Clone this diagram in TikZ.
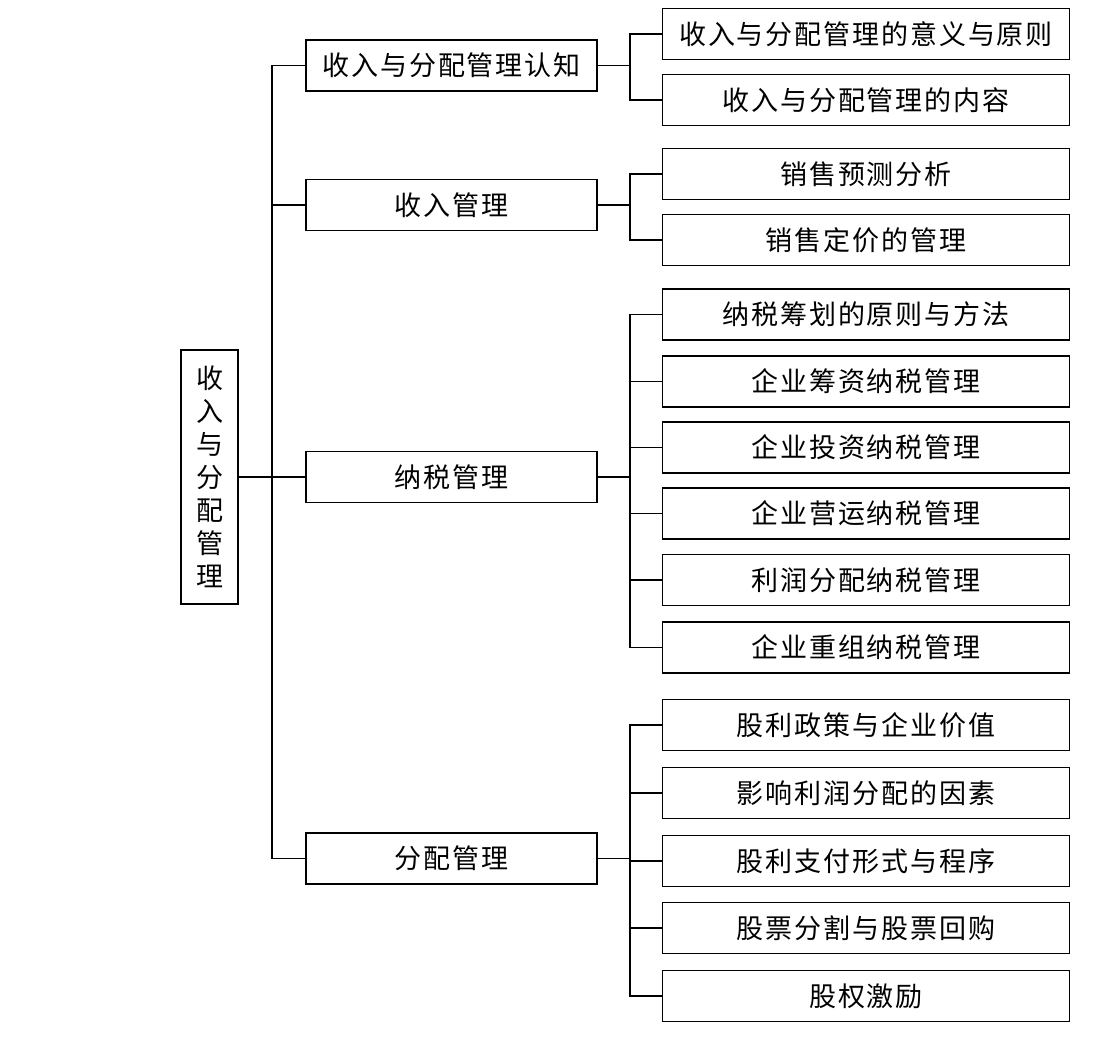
\documentclass[tikz,border=0pt]{standalone}
\usepackage{fontspec}
\setmainfont{Noto Sans CJK SC}[LetterSpace=7]

\begin{document}
\begin{tikzpicture}[x=1pt,y=-1pt,
  font=\fontsize{27}{33}\selectfont,
  rootbox/.style={draw,line width=1.4pt,minimum width=57pt,minimum height=254pt,inner sep=0pt,align=center},
  midbox/.style={draw,line width=1.4pt,minimum width=291pt,minimum height=51pt,inner sep=0pt},
  leafbox/.style={draw,line width=1.4pt,minimum width=407pt,minimum height=51pt,inner sep=0pt},
  link/.style={line width=1.1pt}]
\useasboundingbox (0,0) rectangle (1099,1048);
\node[rootbox] (root) at (209.5,477) {收\\入\\与\\分\\配\\管\\理};
\node[midbox] (m1) at (451.5,65.5) {收入与分配管理认知};
\node[midbox] (m2) at (451.5,205) {收入管理};
\node[midbox] (m3) at (451.5,477) {纳税管理};
\node[midbox] (m4) at (451.5,858.5) {分配管理};
\foreach \t/\y [count=\i] in {收入与分配管理的意义与原则/34, 收入与分配管理的内容/100,
  销售预测分析/174, 销售定价的管理/240, 纳税筹划的原则与方法/314.5,
  企业筹资纳税管理/381.5, 企业投资纳税管理/447.5, 企业营运纳税管理/513.5,
  利润分配纳税管理/580, 企业重组纳税管理/647.5, 股利政策与企业价值/725,
  影响利润分配的因素/793, 股利支付形式与程序/861, 股票分割与股票回购/928, 股权激励/996}
  \node[leafbox] (l\i) at (866,\y) {\t};
% trunk
\coordinate (tr) at (272,0);
\draw[link] (m1.west) -| (tr |- m4.west) -- (m4.west);
\draw[link] (m2.west) -- (m2.west -| tr);
\draw[link] (root.east) -- (m3.west);
% branches
\coordinate (br) at (630,0);
\draw[link] (m1.east) -- (m1.east -| br);
\draw[link] (l1.west) -| (br |- l2.west) -- (l2.west);
\draw[link] (m2.east) -- (m2.east -| br);
\draw[link] (l3.west) -| (br |- l4.west) -- (l4.west);
\draw[link] (m3.east) -- (m3.east -| br);
\draw[link] (l5.west) -| (br |- l10.west) -- (l10.west);
\foreach \i in {6,...,9}
  \draw[link] (l\i.west) -- (l\i.west -| br);
\draw[link] (m4.east) -- (m4.east -| br);
\draw[link] (l11.west) -| (br |- l15.west) -- (l15.west);
\foreach \i in {12,13,14}
  \draw[link] (l\i.west) -- (l\i.west -| br);
\end{tikzpicture}
\end{document}
